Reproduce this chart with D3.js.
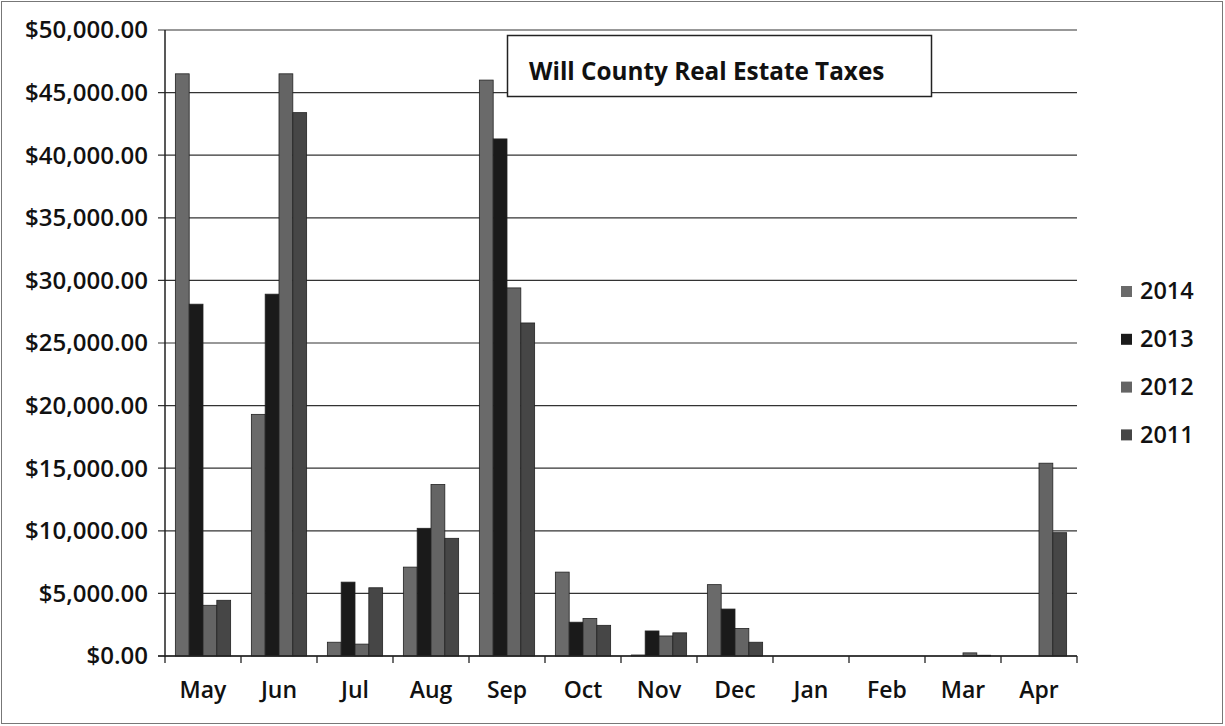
<!DOCTYPE html>
<html><head><meta charset="utf-8">
<script src="https://cdn.jsdelivr.net/npm/d3@7"></script>
<style>body{margin:0;background:#fff}svg{display:block}</style>
</head><body><svg id="c" width="1225" height="726"></svg>
<script>
const months = ["May","Jun","Jul","Aug","Sep","Oct","Nov","Dec","Jan","Feb","Mar","Apr"];
const years = ["2014","2013","2012","2011"];
const v2014 = [46500,19300,1100,7100,46000,6700,80,5700,0,0,0,0];
const v2013 = [28100,28900,5900,10200,41300,2700,2000,3750,0,0,0,0];
const v2012 = [4050,46500,950,13700,29400,3000,1600,2200,0,0,250,15400];
const v2011 = [4450,43400,5450,9400,26600,2450,1850,1100,0,0,60,9850];
const yTicks = [0,5000,10000,15000,20000,25000,30000,35000,40000,45000,50000];
const title = "Will County Real Estate Taxes";

const series = {"2014":v2014,"2013":v2013,"2012":v2012,"2011":v2011};
const colors = {"2014":"#6a6a6a","2013":"#1a1a1a","2012":"#646464","2011":"#464646"};

const svg = d3.select("#c");
const L = 165, R = 1077, T = 30, B = 656;
const font = "'Open Sans', sans-serif";

svg.append("rect").attr("x",1.5).attr("y",1.5).attr("width",1221).attr("height",722)
  .attr("fill","#fff").attr("stroke","#777").attr("stroke-width",1);

const x0 = d3.scaleBand().domain(months).range([L,R]).padding(0);
const x1 = d3.scaleBand().domain(years).range([0,x0.bandwidth()]).paddingInner(0).paddingOuter(0.75);
const y = d3.scaleLinear().domain([0,50000]).range([B,T]);

// gridlines + y ticks
const fmt = v => "$" + d3.format(",.2f")(v);
svg.append("g").selectAll("line").data(yTicks).join("line")
  .attr("x1",L-7).attr("x2",R).attr("y1",d=>y(d)).attr("y2",d=>y(d))
  .attr("stroke","#333").attr("stroke-width",1.2);
svg.append("g").selectAll("text").data(yTicks).join("text")
  .attr("x",148).attr("y",d=>y(d)).attr("dy","0.35em").attr("text-anchor","end")
  .attr("font-family",font).attr("font-weight",600).attr("font-size",24).attr("fill","#111")
  .text(fmt);

// bars
const g = svg.append("g");
months.forEach((m,i)=>{
  years.forEach(yr=>{
    const v = series[yr][i];
    if (v<=0) return;
    g.append("rect").attr("x",x0(m)+x1(yr)).attr("width",x1.bandwidth())
      .attr("y",y(v)).attr("height",B-y(v)).attr("fill",colors[yr])
      .attr("stroke","#222").attr("stroke-width",0.8);
  });
});

// axes lines
svg.append("line").attr("x1",L).attr("x2",L).attr("y1",T).attr("y2",B+1).attr("stroke","#222").attr("stroke-width",1.5);
svg.append("line").attr("x1",L-7).attr("x2",R).attr("y1",B).attr("y2",B).attr("stroke","#222").attr("stroke-width",1.5);
const bounds = months.map(m=>x0(m)).concat([R]);
svg.append("g").selectAll("line").data(bounds).join("line")
  .attr("x1",d=>d).attr("x2",d=>d).attr("y1",B).attr("y2",B+7).attr("stroke","#222").attr("stroke-width",1.3);
svg.append("g").selectAll("text").data(months).join("text")
  .attr("x",d=>x0(d)+x0.bandwidth()/2).attr("y",698).attr("text-anchor","middle")
  .attr("font-family",font).attr("font-weight",600).attr("font-size",23).attr("fill","#111")
  .text(d=>d);

// title box
svg.append("rect").attr("x",507.5).attr("y",35.5).attr("width",424).attr("height",61)
  .attr("fill","#fff").attr("stroke","#222").attr("stroke-width",1.5);
svg.append("text").attr("x",529).attr("y",80).attr("font-family",font).attr("font-weight",700)
  .attr("font-size",24.3).attr("fill","#111").text(title);

// legend
const leg = svg.append("g").selectAll("g").data(years).join("g")
  .attr("transform",(d,i)=>`translate(1121,${291+i*47.8})`);
leg.append("rect").attr("x",0).attr("y",-5).attr("width",11).attr("height",11).attr("fill",d=>colors[d]);
leg.append("text").attr("x",19).attr("y",0).attr("dy","0.35em").attr("font-family",font)
  .attr("font-weight",600).attr("font-size",23.5).attr("fill","#111").text(d=>d);
</script></body></html>
